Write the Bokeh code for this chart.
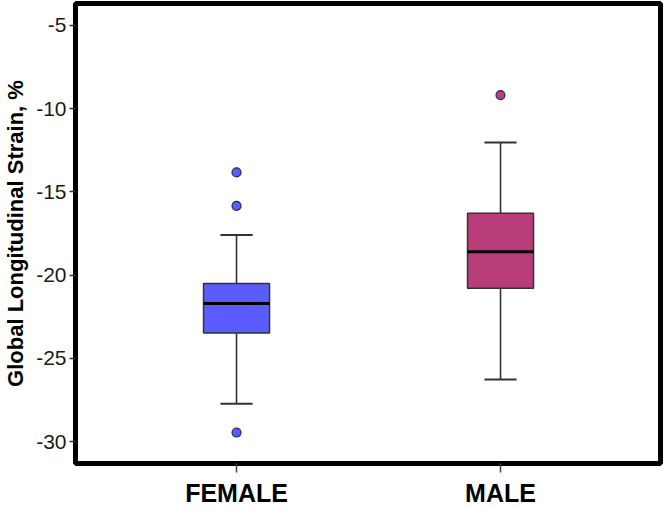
from bokeh.plotting import figure
from bokeh.models import Range1d, FixedTicker, ColumnDataSource
from bokeh.embed import file_html
from bokeh.resources import INLINE

# ---- data ----
categories = ["FEMALE", "MALE"]
q1 = [-23.48, -20.79]
median = [-21.71, -18.59]
q3 = [-20.50, -16.28]
lower_whisker = [-27.72, -26.26]
upper_whisker = [-17.59, -12.04]
outlier_group = ["FEMALE", "FEMALE", "FEMALE", "MALE"]
outlier_values = [-13.83, -15.84, -29.45, -9.19]
y_ticks = [-30, -25, -20, -15, -10, -5]
y_tick_labels = ["-30", "-25", "-20", "-15", "-10", "-5"]

# ---- styles ----
box_colors = {"FEMALE": "#5b5cff", "MALE": "#b93d7b"}
box_w = 0.25
cap_w = 0.122

xpos = {c: i + 1 for i, c in enumerate(categories)}
xs = [xpos[c] for c in categories]

box_src = ColumnDataSource(dict(
    x=xs, q1=q1, q3=q3, med=median, lo=lower_whisker, hi=upper_whisker,
    color=[box_colors[c] for c in categories],
    bx0=[x - box_w / 2 for x in xs], bx1=[x + box_w / 2 for x in xs],
    cx0=[x - cap_w / 2 for x in xs], cx1=[x + cap_w / 2 for x in xs],
))
out_src = ColumnDataSource(dict(
    x=[xpos[g] for g in outlier_group], y=outlier_values,
    color=[box_colors[g] for g in outlier_group],
))

p = figure(width=664, height=509,
           x_range=Range1d(0.390, 2.606), y_range=Range1d(-31.31, -3.69),
           output_backend="svg", toolbar_location=None,
           min_border_left=75, min_border_right=4, min_border_top=3,
           min_border_bottom=43)

p.background_fill_color = "white"
p.border_fill_color = "white"
p.outline_line_color = "black"
p.outline_line_width = 5
p.grid.visible = False

# whiskers
p.segment(x0="x", y0="q3", x1="x", y1="hi", source=box_src, line_color="#333333", line_width=1.6)
p.segment(x0="x", y0="q1", x1="x", y1="lo", source=box_src, line_color="#333333", line_width=1.6)
p.segment(x0="cx0", y0="hi", x1="cx1", y1="hi", source=box_src, line_color="#333333", line_width=2)
p.segment(x0="cx0", y0="lo", x1="cx1", y1="lo", source=box_src, line_color="#333333", line_width=2)
# boxes
p.vbar(x="x", width=box_w, bottom="q1", top="q3", source=box_src,
       fill_color="color", line_color="#333333", line_width=1.5)
# medians
p.segment(x0="bx0", y0="med", x1="bx1", y1="med", source=box_src, line_color="black", line_width=3)
# outliers
p.scatter(x="x", y="y", source=out_src, size=9, fill_color="color",
          line_color="#2a2a55", line_width=1.2)

# axes
p.xaxis.ticker = FixedTicker(ticks=xs)
p.xaxis.major_label_overrides = {x: c for c, x in xpos.items()}
p.xaxis.major_label_text_font = "Liberation Sans"
p.xaxis.major_label_text_font_size = "25px"
p.xaxis.major_label_text_font_style = "bold"
p.xaxis.major_label_text_color = "black"
p.xaxis.major_label_standoff = 6
p.xaxis.major_tick_out = 9
p.xaxis.major_tick_in = 0
p.xaxis.major_tick_line_color = "#444444"
p.xaxis.major_tick_line_width = 1.5
p.xaxis.axis_line_color = None

p.yaxis.ticker = FixedTicker(ticks=y_ticks)
p.yaxis.major_label_overrides = dict(zip(y_ticks, y_tick_labels))
p.yaxis.major_label_text_font = "Liberation Sans"
p.yaxis.major_label_text_font_size = "21px"
p.yaxis.major_label_text_color = "#1a1a1a"
p.yaxis.major_label_standoff = 3
p.yaxis.major_tick_out = 6
p.yaxis.major_tick_in = 0
p.yaxis.major_tick_line_color = "#333333"
p.yaxis.major_tick_line_width = 1.5
p.yaxis.axis_line_color = None
p.yaxis.axis_label = "Global Longitudinal Strain, %"
p.yaxis.axis_label_text_font = "Liberation Sans"
p.yaxis.axis_label_text_font_size = "22px"
p.yaxis.axis_label_text_font_style = "bold"
p.yaxis.axis_label_text_color = "black"
p.yaxis.axis_label_standoff = 5

open("out.html", "w").write(file_html(p, INLINE))
